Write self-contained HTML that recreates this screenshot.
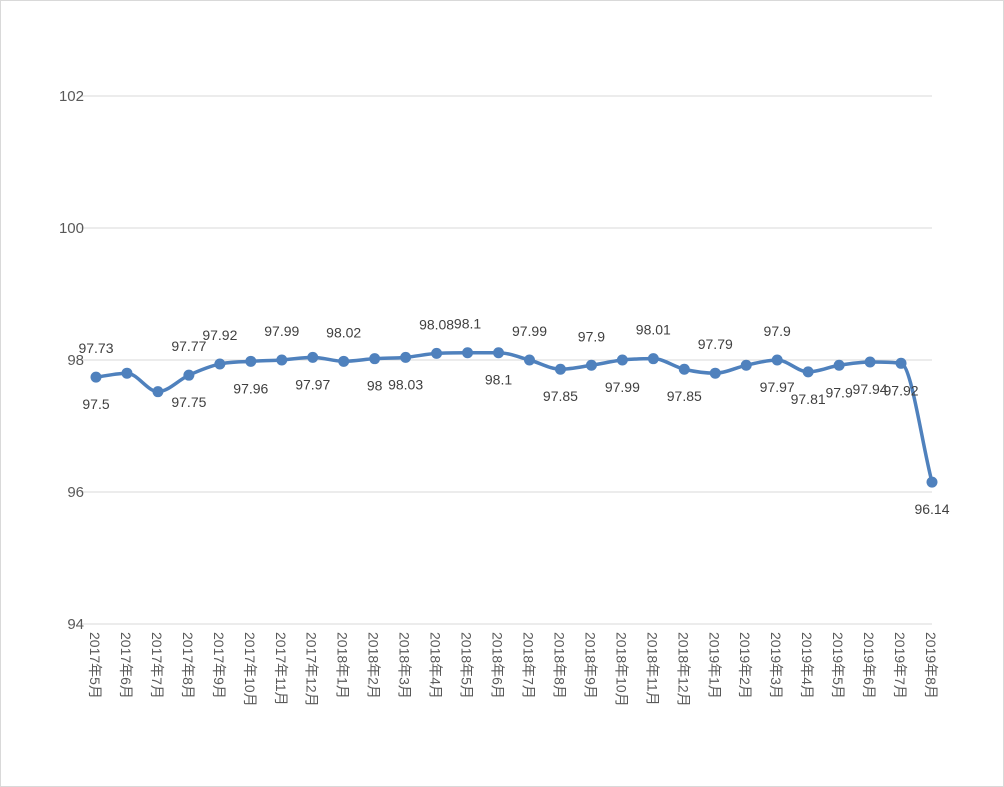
<!DOCTYPE html>
<html><head><meta charset="utf-8">
<style>
html,body{margin:0;padding:0;background:#fff;}
svg{display:block;font-family:"Liberation Sans","Noto Sans CJK SC",sans-serif;}
</style></head>
<body>
<svg id="chart" width="1004" height="787" viewBox="0 0 1004 787">
<rect x="0.5" y="0.5" width="1003" height="786" fill="#fff" stroke="#d9d9d9"/>
<g id="grid"></g><g id="yticks"></g><g id="xticks"></g><g id="series"></g><g id="labels"></g>
</svg>
<script>
const categories=["2017年5月","2017年6月","2017年7月","2017年8月","2017年9月","2017年10月","2017年11月","2017年12月","2018年1月","2018年2月","2018年3月","2018年4月","2018年5月","2018年6月","2018年7月","2018年8月","2018年9月","2018年10月","2018年11月","2018年12月","2019年1月","2019年2月","2019年3月","2019年4月","2019年5月","2019年6月","2019年7月","2019年8月"];
const values=[97.74,97.8,97.52,97.77,97.94,97.98,98.0,98.04,97.98,98.02,98.04,98.1,98.11,98.11,98.0,97.86,97.92,98.0,98.02,97.86,97.8,97.92,98.0,97.82,97.92,97.97,97.95,96.15];
const labelsAbove=["97.73","","","97.77","97.92","","97.99","","98.02","","","98.08","98.1","","97.99","","97.9","","98.01","","97.79","","97.9","","","","",""];
const labelsBelow=["97.5","","","97.75","","97.96","","97.97","","98","98.03","","","98.1","","97.85","","97.99","","97.85","","","97.97","97.81","97.9","97.94","97.92","96.14"];
const yTicks=[94,96,98,100,102];
const NS="http://www.w3.org/2000/svg";
const x0=96,x1=932,yBase=624,pxPerUnit=66,yMin=94;
const X=i=>x0+i*(x1-x0)/(categories.length-1);
const Y=v=>yBase-(v-yMin)*pxPerUnit;
function mk(tag,attrs,parent){const e=document.createElementNS(NS,tag);for(const k in attrs)e.setAttribute(k,attrs[k]);parent.appendChild(e);return e;}
const grid=document.getElementById('grid'),yt=document.getElementById('yticks'),xt=document.getElementById('xticks'),ser=document.getElementById('series'),lab=document.getElementById('labels');
yTicks.forEach(t=>{
 const l=mk('line',{x1:80,x2:932,y1:Y(t),y2:Y(t),stroke:'#d9d9d9','stroke-width':1},grid);
 
 
 const tx=mk('text',{x:84,y:Y(t)+5,'text-anchor':'end','font-size':15,fill:'#595959'},yt);
 tx.textContent=t;
 
 
});
categories.forEach((c,i)=>{
 const tx=mk('text',{transform:`translate(${X(i)-6},632) rotate(90)`,'font-size':14,fill:'#595959'},xt);
 tx.textContent=c;
 
 
});
const pts=values.map((v,i)=>[X(i),Y(v)]);
// monotone cubic
const n=pts.length,dx=[],sl=[],m=[];
for(let i=0;i<n-1;i++){dx[i]=pts[i+1][0]-pts[i][0];sl[i]=(pts[i+1][1]-pts[i][1])/dx[i];}
m[0]=sl[0];m[n-1]=sl[n-2];
for(let i=1;i<n-1;i++){m[i]=(sl[i-1]*sl[i]<=0)?0:(sl[i-1]+sl[i])/2;}
for(let i=0;i<n-1;i++){if(sl[i]===0){m[i]=0;m[i+1]=0;continue;}const a=m[i]/sl[i],b=m[i+1]/sl[i],s=a*a+b*b;if(s>9){const t=3/Math.sqrt(s);m[i]=t*a*sl[i];m[i+1]=t*b*sl[i];}}
let d=`M${pts[0][0]},${pts[0][1]}`;
for(let i=0;i<n-1;i++){const h=dx[i]/3;d+=` C${pts[i][0]+h},${pts[i][1]+m[i]*h} ${pts[i+1][0]-h},${pts[i+1][1]-m[i+1]*h} ${pts[i+1][0]},${pts[i+1][1]}`;}
const path=mk('path',{d:d,fill:'none',stroke:'#4f81bd','stroke-width':3.5,'stroke-linejoin':'round'},ser);


pts.forEach((p,i)=>{
 const c=mk('circle',{cx:p[0],cy:p[1],r:5.5,fill:'#4f81bd'},ser);
 
 
 if(labelsAbove[i]){
  const tx=mk('text',{x:p[0],y:p[1]-24,'text-anchor':'middle','font-size':14,fill:'#404040'},lab);
  tx.textContent=labelsAbove[i];
  
  
 }
 if(labelsBelow[i]){
  const tx=mk('text',{x:p[0],y:p[1]+32,'text-anchor':'middle','font-size':14,fill:'#404040'},lab);
  tx.textContent=labelsBelow[i];
  
  
 }
});
</script>
</body></html>
